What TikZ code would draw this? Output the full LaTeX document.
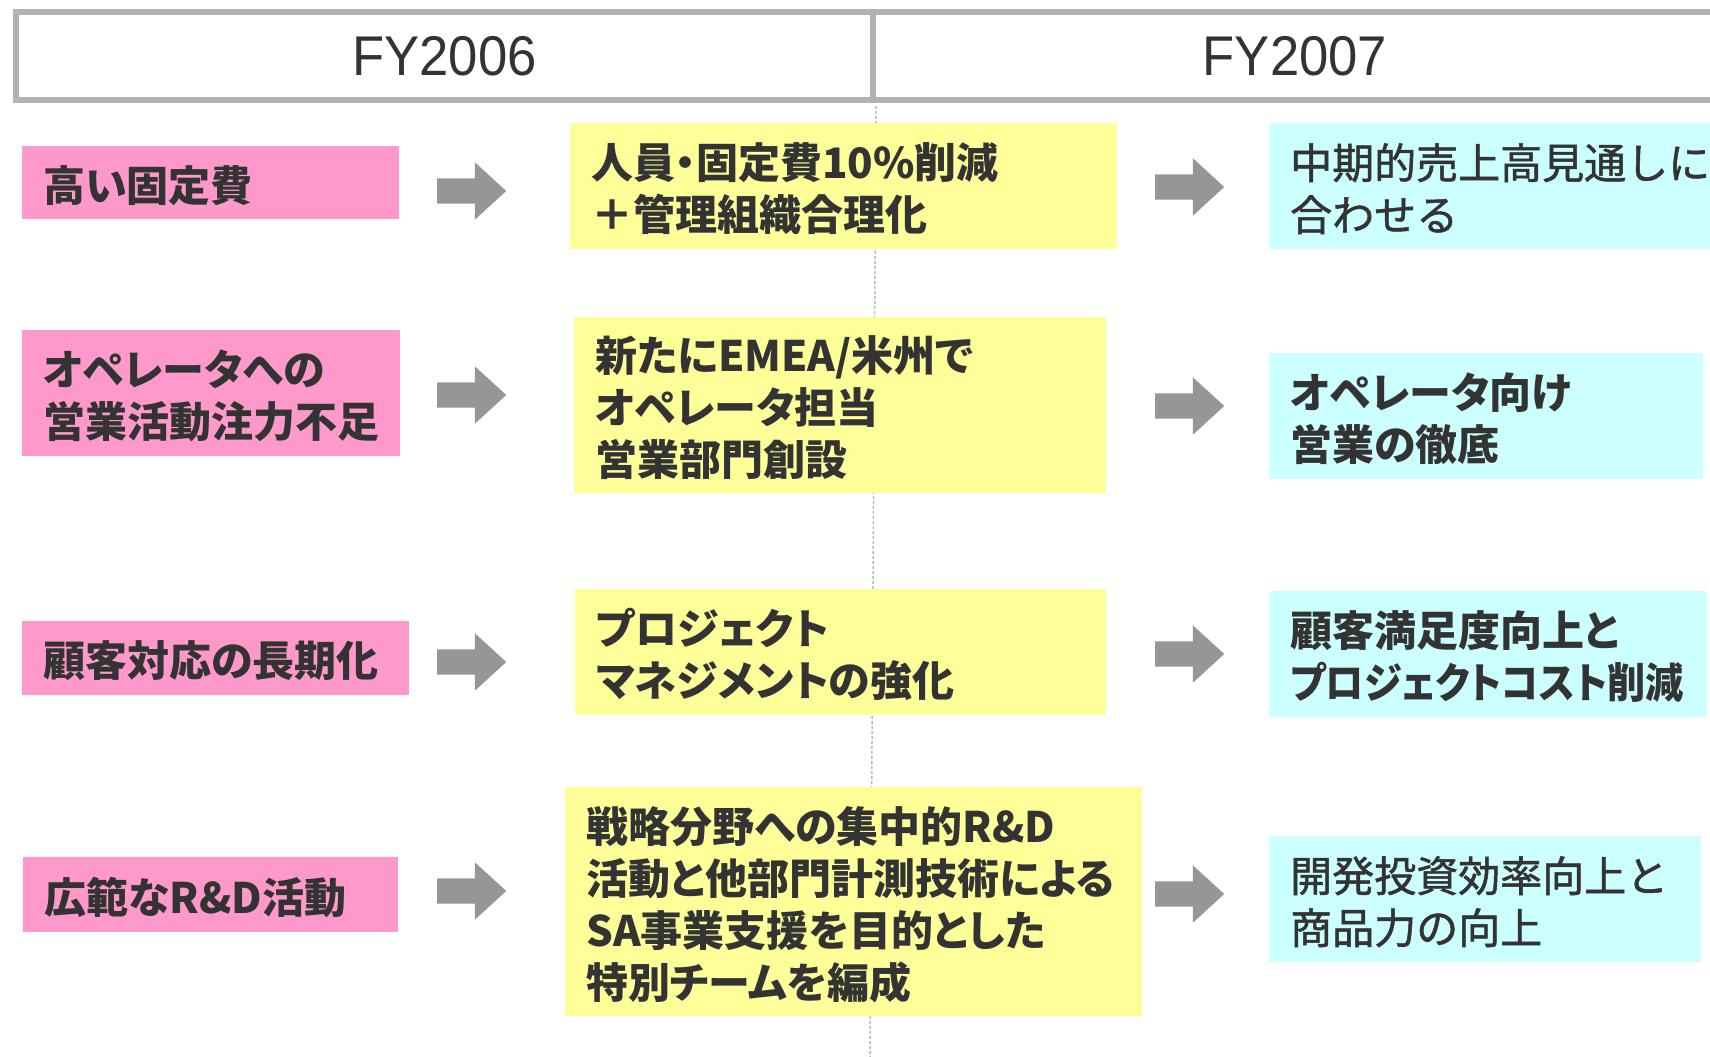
\documentclass[tikz,border=0pt]{standalone}
\usepackage{fontspec}
\setmainfont{Liberation Sans}
\newfontfamily\hdfont[FakeStretch=0.94]{Liberation Sans}
\newfontfamily\jpb[RawFeature=+palt]{Noto Sans CJK JP}
\newfontfamily\jpbn[RawFeature=+palt, FakeStretch=0.91]{Noto Sans CJK JP}
\newfontfamily\jpr[FakeBold=1.2]{Noto Sans CJK JP}
\usetikzlibrary{shapes.arrows}
\definecolor{pinkc}{HTML}{FF99CC}
\definecolor{yelc}{HTML}{FFFF99}
\definecolor{cyanc}{HTML}{CCFFFF}
\definecolor{arrc}{HTML}{969696}
\definecolor{txtc}{HTML}{333333}
\definecolor{hdline}{HTML}{B2B2B2}
\definecolor{dashc}{HTML}{BBBBBB}
\newcommand\topstrut{\rule{0pt}{47pt}}
\newcommand\botstrut{\rule[-10pt]{0pt}{10pt}}
\tikzset{
  hdcell/.style={draw=hdline, line width=6pt, anchor=north west, inner sep=0pt,
    text=txtc, font=\hdfont\fontsize{56}{60}\selectfont},
  box/.style={anchor=north west, inner xsep=21pt, inner ysep=0pt, align=left,
    text=txtc, font=\jpb\bfseries\fontsize{42}{52}\selectfont,
    execute at begin node=\topstrut, execute at end node=\botstrut},
  regbox/.style={box, font=\jpr\fontsize{42}{52}\selectfont},
  pinkbox/.style={box, fill=pinkc},
  yelbox/.style={box, fill=yelc},
  cyanbox/.style={box, fill=cyanc},
  cyanreg/.style={regbox, fill=cyanc},
  bigarrow/.style={single arrow, fill=arrc, draw=none, inner xsep=0pt, inner ysep=12.5pt,
    minimum height=69pt, minimum width=57pt, single arrow head extend=16pt,
    single arrow tip angle=85, anchor=tail},
  dashline/.style={draw=dashc, line width=1.5pt, dash pattern=on 3pt off 2pt}
}
\begin{document}
\begin{tikzpicture}[x=1pt, y=-1pt]
\useasboundingbox (0,0) rectangle (1710,1057);
\fill[white] (0,0) rectangle (1710,1057);
% header
\node[hdcell, minimum width=857pt, minimum height=88pt] (h1) at (13,9) {FY2006};
\node[hdcell, minimum width=844pt, minimum height=88pt] (h2) at (870,9) {FY2007};
% dashed divider
\coordinate (dend) at (870,1057);
\draw[dashline] ([yshift=-3pt]h1.south east) -- (dend);
% column 1 (pink)
\node[pinkbox, minimum width=377pt, minimum height=73pt, text width=335pt] (p1) at (22,146) {高い固定費};
\node[pinkbox, minimum width=378pt, minimum height=126pt, text width=336pt] (p2) at (22,330) {オペレータへの\\営業活動注力不足};
\node[pinkbox, minimum width=387pt, minimum height=74pt, text width=345pt] (p3) at (22,621) {顧客対応の長期化};
\node[pinkbox, minimum width=375pt, minimum height=75pt, text width=333pt] (p4) at (23,857) {広範なR\&D活動};
% column 2 (yellow)
\node[yelbox, minimum width=547pt, minimum height=126pt, text width=505pt] (y1) at (570,123) {人員・固定費10\%削減\\＋管理組織合理化};
\node[yelbox, minimum width=532pt, minimum height=176pt, text width=490pt] (y2) at (574,317) {新たにEMEA/米州で\\オペレータ担当\\営業部門創設};
\node[yelbox, minimum width=531pt, minimum height=126pt, text width=489pt] (y3) at (575,589) {プロジェクト\\マネジメントの強化};
\node[yelbox, minimum width=577pt, minimum height=229pt, text width=535pt] (y4) at (565,787) {戦略分野への集中的R\&D\\活動と他部門計測技術による\\SA事業支援を目的とした\\特別チームを編成};
% column 3 (cyan)
\node[cyanreg, minimum width=480pt, minimum height=126pt, text width=438pt] (c1) at (1269,123) {中期的売上高見通しに\\合わせる};
\node[cyanbox, minimum width=434pt, minimum height=126pt, text width=392pt] (c2) at (1269,353) {オペレータ向け\\営業の徹底};
\node[cyanbox, minimum width=438pt, minimum height=126pt, text width=396pt] (c3) at (1269,591) {顧客満足度向上と\\{\jpbn プロジェクトコスト削減}};
\node[cyanreg, minimum width=432pt, minimum height=126pt, text width=390pt] (c4) at (1269,836) {開発投資効率向上と\\商品力の向上};
% arrows
\node[bigarrow] (a1) at (437,191) {};
\node[bigarrow] (a2) at (437,395) {};
\node[bigarrow] (a3) at (437,662) {};
\node[bigarrow] (a4) at (437,891) {};
\node[bigarrow] (b1) at (1155,187) {};
\node[bigarrow] (b2) at (1155,406) {};
\node[bigarrow] (b3) at (1155,654) {};
\node[bigarrow] (b4) at (1155,894) {};
\end{tikzpicture}
\end{document}
